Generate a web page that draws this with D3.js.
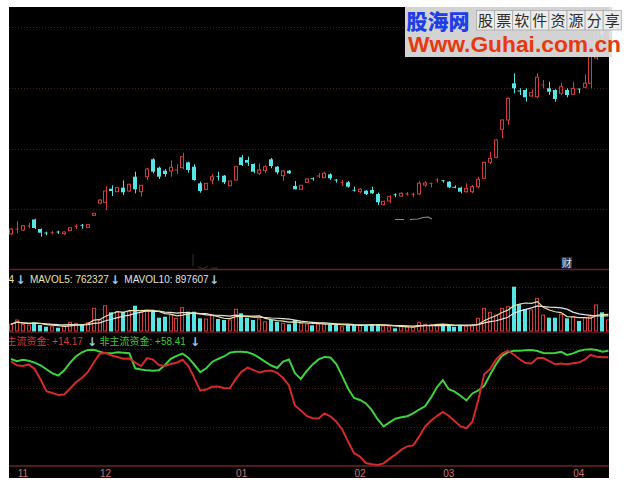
<!DOCTYPE html>
<html><head><meta charset="utf-8">
<script src="https://cdn.jsdelivr.net/npm/d3@7"></script>
<style>body{margin:0;background:#fff}svg{display:block}</style>
</head><body>
<svg id="c" width="628" height="483"></svg>
<script>
// ---- data (price units, volume in shares, flow indicator 0-100) ----
const opens=[3.60,4.00,4.00,4.35,5.05,4.10,3.70,3.70,3.80,3.63,
3.93,4.27,4.47,4.27,5.47,6.70,6.77,8.13,7.83,8.23,
7.90,9.33,7.83,9.33,11.07,10.23,9.93,9.90,9.97,10.23,
10.77,10.33,8.67,8.07,9.00,9.33,9.43,8.43,9.00,11.27,
11.00,10.60,9.67,9.93,11.07,10.33,9.43,9.93,8.40,8.07,
8.77,9.13,9.37,9.23,9.57,9.00,8.70,8.77,7.97,7.83,
7.93,8.00,7.60,6.53,6.90,7.53,7.40,7.57,7.53,7.60,
8.50,8.60,8.97,8.93,8.83,8.27,8.23,7.83,7.83,8.33,
9.17,10.77,11.27,14.07,15.00,18.67,17.90,18.00,17.40,17.33,
18.47,18.17,18.00,17.67,18.00,17.57,18.10,18.27,18.67,21.20,
24.50,23.50];
const closes=[4.10,4.10,4.43,4.40,4.20,3.73,3.65,3.73,3.77,3.80,
4.23,4.37,4.33,4.53,5.67,7.00,7.90,7.90,8.23,7.77,
8.57,8.07,8.47,10.10,9.83,9.33,9.60,10.27,10.00,11.33,
10.00,9.00,7.90,8.67,9.33,9.20,8.77,8.90,10.33,10.50,
10.73,9.83,10.00,10.33,10.40,9.77,9.90,9.67,8.07,8.47,
9.10,9.07,9.40,9.67,9.17,8.87,8.77,8.33,7.93,8.07,
7.60,7.67,6.77,6.87,7.33,7.47,7.67,7.60,7.57,8.67,
8.70,8.67,9.00,8.90,8.27,8.23,7.83,8.17,8.33,9.07,
10.77,11.17,13.00,15.00,17.17,18.17,17.80,17.27,17.73,19.27,
18.50,17.83,17.10,18.33,17.50,18.17,18.07,18.67,21.33,23.50,
23.50,25.00];
const highs=[4.20,4.90,4.50,4.70,5.13,4.15,3.83,3.90,3.93,3.85,
4.30,4.57,4.60,4.60,5.70,7.07,8.40,8.47,8.33,8.97,
8.63,9.83,8.50,10.23,11.17,10.33,10.10,10.97,10.57,11.73,
10.83,10.57,8.83,8.70,9.60,9.83,9.50,8.93,10.43,11.50,
11.33,10.67,10.67,10.50,11.20,10.40,10.00,10.00,8.90,8.50,
9.17,9.27,9.70,9.80,9.67,9.10,9.00,8.90,8.33,8.17,
8.00,8.33,7.73,6.93,7.50,7.67,7.77,7.80,7.73,8.90,
8.90,8.73,9.17,8.97,8.90,8.47,8.33,8.67,8.50,9.33,
10.83,11.83,13.07,15.07,17.27,19.67,18.17,18.17,18.07,19.67,
19.00,18.83,18.07,18.73,18.17,18.83,18.10,19.57,21.50,24.00,
25.00,25.80];
const lows=[3.50,3.70,3.90,4.20,4.10,3.33,3.47,3.57,3.60,3.50,
3.90,4.10,4.13,4.20,5.40,6.60,6.00,7.40,7.80,7.50,
7.80,7.67,7.33,9.00,9.67,9.10,9.33,9.33,9.60,10.07,
9.73,8.93,7.73,8.00,8.57,8.93,8.60,8.40,8.97,10.40,
10.40,9.67,9.50,9.67,10.17,9.57,8.93,9.60,8.07,8.00,
8.70,8.93,9.20,9.20,9.00,8.73,8.40,8.23,7.83,7.67,
7.50,7.60,6.50,6.50,6.67,7.27,7.33,7.43,7.27,7.50,
8.33,8.27,8.73,8.73,8.20,8.17,7.67,7.73,7.67,8.17,
9.07,10.60,11.17,13.17,14.50,17.67,17.50,16.83,17.27,17.17,
18.17,17.50,16.83,17.50,17.27,17.50,17.67,18.17,18.17,21.00,
22.80,23.30];
const volumes=[305,500,305,273,395,273,195,195,150,227,
395,350,305,377,1032,500,1150,850,877,877,
877,1150,850,955,877,605,650,727,577,1059,
877,877,577,545,727,545,500,500,986,805,
605,500,545,423,500,423,350,305,500,340,
318,259,305,350,305,273,195,273,273,273,
241,318,318,227,195,123,195,195,195,395,
305,273,305,273,273,195,227,227,273,577,
1032,850,727,1032,1105,2014,1214,1000,955,1486,
727,605,605,759,577,650,455,605,650,1182,
850,500].map(v=>v*1000);
const mainFlow=[67.0,64.6,64.1,65.1,62.2,55.4,47.9,46.8,45.5,45.8,
49.7,53.7,56.6,60.3,66.3,72.0,72.5,70.8,69.9,68.8,
68.9,66.3,64.1,69.2,68.2,64.7,64.1,65.4,66.2,68.1,
64.1,56.5,48.3,49.0,50.8,51.0,50.0,49.8,55.8,60.5,
63.1,61.5,59.9,60.9,61.2,59.7,56.4,51.6,38.8,35.5,
32.1,30.6,30.4,33.7,31.9,28.4,23.4,15.5,8.2,6.0,
1.9,1.1,0.6,1.7,4.7,7.3,10.5,12.6,13.2,18.8,
25.3,29.0,32.0,34.6,32.2,28.9,25.4,24.2,28.4,42.3,
58.8,62.1,68.2,72.0,73.8,71.5,68.4,66.0,65.7,69.2,
69.2,67.2,65.2,65.7,65.3,65.8,66.3,68.2,71.2,70.1,
69.7,69.7];
const otherFlow=[68.6,67.2,68.1,67.5,66.3,64.5,62.0,59.4,58.0,61.3,
66.3,70.3,72.9,74.4,74.5,73.3,72.2,72.2,72.9,72.6,
72.3,62.6,61.9,61.3,61.1,61.4,64.6,68.7,70.6,72.1,
69.3,64.9,60.2,62.6,66.7,68.6,70.2,72.6,73.3,73.3,
72.9,71.6,69.3,66.7,64.4,62.8,66.9,68.3,59.5,55.8,
60.9,65.1,68.3,69.9,69.5,65.4,57.6,49.5,43.6,42.3,
40.1,35.8,29.8,25.4,28.0,30.3,31.2,31.9,33.7,36.2,
38.3,43.8,50.4,55.0,49.2,47.7,45.0,42.0,46.5,48.4,
51.4,58.5,65.2,70.6,72.9,73.9,73.9,74.2,74.4,73.7,
72.5,72.2,72.5,73.2,71.2,72.2,73.7,74.6,74.8,74.4,
73.3,73.9];
const monthTickIdx=[2,16,39,59,74,96];
const monthLabels=["11","12","01","02","03","04"];
const priceGrid=[6.1,12.15,18.2,24.3];
const volGrid=[1e6,2e6];
const flowGrid=[25,50,75];

// ---- drawing ----
const RED="#d23c3c", CYAN="#56e4e4", GRID="#4e1a1a";
const svg=d3.select('#c');
svg.append('rect').attr('width',628).attr('height',483).attr('fill','#fff');
svg.append('defs').append('clipPath').attr('id','clip')
  .append('rect').attr('x',9).attr('y',7).attr('width',600).attr('height',471);
const g=svg.append('g').attr('clip-path','url(#clip)');
g.append('rect').attr('x',9).attr('y',7).attr('width',600).attr('height',471).attr('fill','#000');

const idx=d3.range(opens.length);
const x=d3.scaleBand().domain(idx).range([8.04,611.37]).paddingInner(0.26).paddingOuter(0.13);
const bw=x.bandwidth();
const cx=i=>x(i)+bw/2;
const priceY=d3.scaleLinear().domain([0,26.3]).range([270,7]);
const volY=d3.scaleLinear().domain([0,2.818e6]).range([331,269]);
const flowY=d3.scaleLinear().domain([0,83.33]).range([466,336]);

// grids
function hgrid(vals,sc){
  g.append('g').selectAll('line').data(vals).join('line')
   .attr('x1',9).attr('x2',609).attr('y1',d=>Math.round(sc(d))+0.5).attr('y2',d=>Math.round(sc(d))+0.5)
   .attr('stroke',GRID).attr('stroke-width',1).attr('stroke-dasharray','1,2');
}
hgrid(priceGrid,priceY); hgrid(volGrid,volY); hgrid(flowGrid,flowY);
// pane separators
[[269.5,"#6a2020"],[332.5,"#4a1616"],[466,"#6a2424"]].forEach(([y,c])=>{
  g.append('line').attr('x1',9).attr('x2',609).attr('y1',y).attr('y2',y).attr('stroke',c).attr('stroke-width',1.5);
});

// candles
const cg=g.append('g');
idx.forEach(i=>{
  const o=opens[i],c=closes[i],h=highs[i],l=lows[i];
  const up=c>=o;
  const col=up?RED:CYAN;
  const top=priceY(Math.max(o,c)), bot=priceY(Math.min(o,c));
  const xc=Math.round(cx(i))+0.5;
  const xl=Math.round(x(i))+0.5, w=Math.round(bw)-1;
  if(bot-top<1.5){
    cg.append('line').attr('x1',xc).attr('x2',xc).attr('y1',priceY(h)).attr('y2',priceY(l)).attr('stroke',col);
    cg.append('line').attr('x1',xl).attr('x2',xl+w).attr('y1',top).attr('y2',top).attr('stroke',col);
  } else if(up){
    cg.append('line').attr('x1',xc).attr('x2',xc).attr('y1',priceY(h)).attr('y2',top).attr('stroke',col);
    cg.append('line').attr('x1',xc).attr('x2',xc).attr('y1',bot).attr('y2',priceY(l)).attr('stroke',col);
    cg.append('rect').attr('x',xl).attr('y',top).attr('width',w).attr('height',bot-top)
      .attr('fill','#000').attr('stroke',col);
  } else {
    cg.append('line').attr('x1',xc).attr('x2',xc).attr('y1',priceY(h)).attr('y2',priceY(l)).attr('stroke',col);
    cg.append('rect').attr('x',xl-0.5).attr('y',top).attr('width',w+1).attr('height',bot-top).attr('fill',col);
  }
});

// faint marks in price pane
g.append('path').attr('d','M395,219.5 L404,219.5 M410,219.5 L418,219 L423,217.5 L428,217 L432,219')
 .attr('stroke','#8a8a8a').attr('stroke-width',1.2).attr('fill','none');
g.append('path').attr('d','M193,254 L193,266 M198,267 L203,268.5 L208,266.5 M211,268 L218,268')
 .attr('stroke','#333').attr('stroke-width',1).attr('fill','none');

// volume bars
const vg=g.append('g');
idx.forEach(i=>{
  const up=closes[i]>=opens[i];
  const y0=volY(0), y1=volY(volumes[i]);
  const xl=Math.round(x(i))+0.5, w=Math.round(bw)-1;
  if(up) vg.append('rect').attr('x',xl).attr('y',y1).attr('width',w).attr('height',y0-y1).attr('fill','#000').attr('stroke',RED);
  else vg.append('rect').attr('x',xl-0.5).attr('y',y1).attr('width',w+1).attr('height',y0-y1+0.5).attr('fill',CYAN);
});
// volume moving averages (derived from the bars)
function ma(arr,n){return arr.map((d,i)=>d3.mean(arr.slice(Math.max(0,i-n+1),i+1)));}
const ma5=ma(volumes,5), ma10=ma(volumes,10);
const vline=d3.line().x((d,i)=>cx(i)).y(d=>volY(d));
g.append('path').datum(ma10).attr('d',vline).attr('fill','none').attr('stroke','#e6e6e6').attr('stroke-width',1.2);
g.append('path').datum(ma5).attr('d',vline).attr('fill','none').attr('stroke','#e8e2a8').attr('stroke-width',1.2);

// flow lines
const fline=d3.line().x((d,i)=>cx(i)).y(d=>flowY(d));
g.append('path').datum(otherFlow).attr('d',fline).attr('fill','none').attr('stroke','#3ed23e').attr('stroke-width',2);
g.append('path').datum(mainFlow).attr('d',fline).attr('fill','none').attr('stroke','#d42a2a').attr('stroke-width',2);

// legends
const FONT="'Liberation Sans','Noto Sans CJK SC',sans-serif";
function txt(s,xp,yp,col,size,extra){
  const t=g.append('text').attr('x',xp).attr('y',yp).attr('fill',col).attr('font-size',size).attr('font-family',FONT).text(s);
  if(extra) extra(t); return t;
}
const ARW="#9cc8ee";
const arrow=t=>t.attr('font-weight','bold').attr('font-family',"'DejaVu Sans',sans-serif");
txt("4",8.5,283,"#e8e4b0",10);
txt("↓",15.5,283.5,ARW,12,arrow);
txt("MAVOL5: 762327",30,283,"#e8e4b0",10);
txt("↓",110,283.5,ARW,12,arrow);
txt("MAVOL10: 897607",124.3,283,"#e2e2e2",10);
txt("↓",209,283.5,ARW,12,arrow);

txt("主流资金: +14.17",6.5,345,"#d83a3a",10);
txt("↓",87,345.5,ARW,12,arrow);
txt("非主流资金: +58.41",99.5,345,"#3cc83c",10);
txt("↓",190,345.5,ARW,12,arrow);

// month labels
g.append('g').selectAll('text').data(monthTickIdx).join('text')
 .attr('x',d=>cx(d)).attr('y',477).attr('text-anchor','middle')
 .attr('fill','#c87474').attr('font-size',10).attr('font-family',FONT)
 .text((d,k)=>monthLabels[k]);

// 财 tag
g.append('rect').attr('x',561.5).attr('y',257).attr('width',10.5).attr('height',11.5).attr('fill','#1e3458');
txt("财",561.8,266.5,"#dfe6f4",10);

// watermark (drawn on top, not clipped)
const wm=svg.append('g');
wm.append('rect').attr('x',405).attr('y',7).attr('width',207).attr('height',50).attr('fill','#dedede').attr('opacity',0.95);
wm.append('text').attr('x',406.5).attr('y',28.5).attr('fill','#1e3ee8').attr('font-size',21)
  .attr('font-weight',900).attr('font-family',"'Noto Sans CJK SC',sans-serif").text("股海网");
const chars="股票软件资源分享".split("");
chars.forEach((ch,k)=>{
  wm.append('rect').attr('x',476.5+k*18.1).attr('y',10.5).attr('width',18.1).attr('height',19.5)
    .attr('fill','#ececec').attr('stroke','#a8a8a8').attr('stroke-width',0.8);
  wm.append('text').attr('x',476.5+k*18.1+9.05).attr('y',26).attr('text-anchor','middle')
    .attr('fill','#2a2a2a').attr('font-size',15).attr('font-family',"'Noto Sans CJK SC',sans-serif").text(ch);
});
wm.append('text').attr('x',408).attr('y',51.5).attr('fill','#e8380e').attr('font-size',22)
  .attr('font-weight','bold').attr('font-family',"'Liberation Sans',Arial,sans-serif")
  .attr('textLength',213).attr('lengthAdjust','spacingAndGlyphs').text("Www.Guhai.com.cn");
</script>
</body></html>
